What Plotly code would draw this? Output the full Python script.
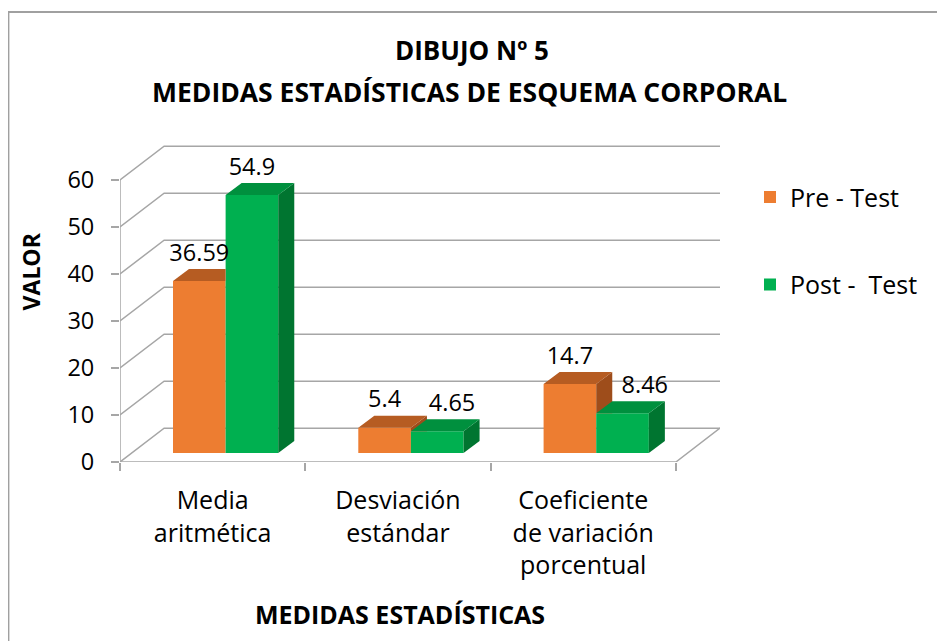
import plotly.graph_objects as go

# ---------------- data ----------------
categories = ["Media<br>aritmética", "Desviación<br>estándar", "Coeficiente<br>de variación<br>porcentual"]
series_names = ["Pre - Test", "Post -  Test"]
pre_test = [36.59, 5.4, 14.7]
post_test = [54.9, 4.65, 8.46]
y_tick_values = [0, 10, 20, 30, 40, 50, 60]
title_line1 = "DIBUJO Nº 5"
title_line2 = "MEDIDAS ESTADÍSTICAS DE ESQUEMA CORPORAL"
x_title = "MEDIDAS ESTADÍSTICAS"
y_title = "VALOR"

# ---------------- style / geometry (pseudo 3D) ----------------
FONT = "Open Sans"
GRID = "#A6A6A6"
front_cols = ["#ED7D31", "#00B050"]
top_cols = ["#B65C22", "#00903E"]
side_cols = ["#9E4D1B", "#007530"]
wall_dx, wall_dy = 0.238, 7.2      # back-wall offset (x units, value units)
bar_dx, bar_dy = 0.0865, 2.55      # bar depth offset
bar_base = 1.9                     # bar sits slightly behind front edge
bar_w = 0.284
bar_off = [-0.214, -0.214 + bar_w]  # offsets of the two series from category centre
label_nudge = [[0, 0, 0], [0, 0.08, 0.12]]  # label x-nudges (style), per series/category
x_pos = list(range(len(categories)))
series = [pre_test, post_test]


def clip_half(poly, axis, c, keep_greater):
    out = []
    n = len(poly)
    for i in range(n):
        P, Q = poly[i], poly[(i + 1) % n]
        pin = P[axis] >= c - 1e-12 if keep_greater else P[axis] <= c + 1e-12
        qin = Q[axis] >= c - 1e-12 if keep_greater else Q[axis] <= c + 1e-12
        if pin:
            out.append(P)
        if pin != qin:
            t = (c - P[axis]) / (Q[axis] - P[axis])
            out.append((P[0] + t * (Q[0] - P[0]), P[1] + t * (Q[1] - P[1])))
    return out


def area(poly):
    if len(poly) < 3:
        return 0
    s = 0
    for i in range(len(poly)):
        x1, y1 = poly[i]
        x2, y2 = poly[(i + 1) % len(poly)]
        s += x1 * y2 - x2 * y1
    return abs(s) / 2


def add_poly(fig, polys, color):
    xs, ys = [], []
    for p in polys:
        if area(p) < 1e-6:
            continue
        xs += [q[0] for q in p] + [p[0][0], None]
        ys += [q[1] for q in p] + [p[0][1], None]
    if xs:
        fig.add_trace(go.Scatter(x=xs, y=ys, mode="lines", fill="toself", fillcolor=color,
                                 line=dict(width=0, color=color), hoverinfo="skip", showlegend=False))


fig = go.Figure()

# front faces as real bars
for s, (name, vals) in enumerate(zip(series_names, series)):
    fig.add_trace(go.Bar(
        x=x_pos, y=vals, base=bar_base, offset=bar_off[s], width=bar_w,
        name=name, legendgroup=name, marker=dict(color=front_cols[s], line=dict(width=0)),
        hoverinfo="name+y"))

# top and side faces
for i, xc in enumerate(x_pos):
    for s in range(2):
        v = series[s][i]
        xl = xc + bar_off[s]
        xr = xl + bar_w
        t = bar_base + v
        top = [(xl, t), (xr, t), (xr + bar_dx, t + bar_dy), (xl + bar_dx, t + bar_dy)]
        side = [(xr, bar_base), (xr + bar_dx, bar_base + bar_dy), (xr + bar_dx, t + bar_dy), (xr, t)]
        polys_side, polys_top = [side], [top]
        if s == 0:
            # hide the parts lying behind the next bar's front face
            gx = xr
            gt = bar_base + series[1][i]
            def vis(p):
                a = clip_half(p, 0, gx, False)
                b = clip_half(clip_half(p, 0, gx, True), 1, gt, True)
                return [a, b]
            polys_side = vis(side)
            polys_top = vis(top)
        add_poly(fig, polys_side, side_cols[s])
        add_poly(fig, polys_top, top_cols[s])

# data labels
for s in range(2):
    fig.add_trace(go.Scatter(
        x=[xc + bar_off[s] + bar_w / 2 + label_nudge[s][i] for i, xc in enumerate(x_pos)],
        y=[bar_base + v + bar_dy + 3.0 for v in series[s]],
        mode="text", text=[str(v) for v in series[s]], textposition="middle center",
        textfont=dict(family=FONT, size=23.5, color="black"), hoverinfo="skip", showlegend=False))

# walls / gridlines (shapes below traces)
shapes = []
x0, x1 = -0.5, len(categories) - 0.5
for v in y_tick_values:
    shapes.append(dict(type="path", xref="x", yref="y", layer="below",
                       path=f"M{x0},{v} L{x0 + wall_dx},{v + wall_dy} L{x1 + wall_dx},{v + wall_dy}",
                       line=dict(color=GRID, width=1.5)))
shapes.append(dict(type="line", xref="x", yref="y", layer="below", x0=x0, y0=0, x1=x0, y1=max(y_tick_values),
                   line=dict(color=GRID, width=1.5)))
shapes.append(dict(type="path", xref="x", yref="y", layer="below",
                   path=f"M{x0},0 L{x1},0 L{x1 + wall_dx},{wall_dy}",
                   line=dict(color=GRID, width=1.5)))
# chart border
shapes.append(dict(type="rect", xref="paper", yref="paper", layer="below",
                   x0=-0.186, y0=-0.8, x1=1.6, y1=1.368, line=dict(color="#A0A0A0", width=2)))

annotations = [
    dict(text=f"<b>{title_line1}</b>", x=0.587, y=1.252, xref="paper", yref="paper",
         xanchor="center", yanchor="middle", showarrow=False, font=dict(family=FONT, size=26, color="black")),
    dict(text=f"<b>{title_line2}</b>", x=0.582, y=1.125, xref="paper", yref="paper",
         xanchor="center", yanchor="middle", showarrow=False, font=dict(family=FONT, size=26.5, color="black")),
    dict(text=f"<b>{x_title}</b>", x=0.467, y=-0.462, xref="paper", yref="paper",
         xanchor="center", yanchor="middle", showarrow=False, font=dict(family=FONT, size=25, color="black")),
    dict(text=f"<b>{y_title}</b>", x=-0.149, y=0.578, xref="paper", yref="paper", textangle=-90,
         xanchor="center", yanchor="middle", showarrow=False, font=dict(family=FONT, size=23, color="black")),
]

fig.update_layout(
    width=937, height=633,
    margin=dict(l=112, r=225, t=125, b=179, pad=0),
    paper_bgcolor="white", plot_bgcolor="rgba(0,0,0,0)",
    barmode="overlay", showlegend=True,
    legend=dict(x=1.05, y=0.875, xanchor="left", yanchor="top", tracegroupgap=52,
                font=dict(family=FONT, size=25, color="black"), bgcolor="rgba(0,0,0,0)"),
    shapes=shapes, annotations=annotations,
    xaxis=dict(range=[x0, x1 + wall_dx], tickvals=x_pos, ticktext=categories, ticks="",
               showgrid=False, zeroline=False, showline=False, ticklabelstandoff=21,
               tickfont=dict(family=FONT, size=25, color="black"),
               minor=dict(tickvals=[x0 + k for k in range(len(categories) + 1)], ticks="outside",
                          ticklen=8, tickwidth=1.5, tickcolor=GRID, showgrid=False)),
    yaxis=dict(range=[0, 70], tickvals=y_tick_values, ticks="outside", ticklen=8, tickwidth=1.5,
               tickcolor=GRID, showgrid=False, zeroline=False, showline=False, ticklabelstandoff=12,
               tickfont=dict(family=FONT, size=23.5, color="black")),
)

fig.write_html("out.html")
